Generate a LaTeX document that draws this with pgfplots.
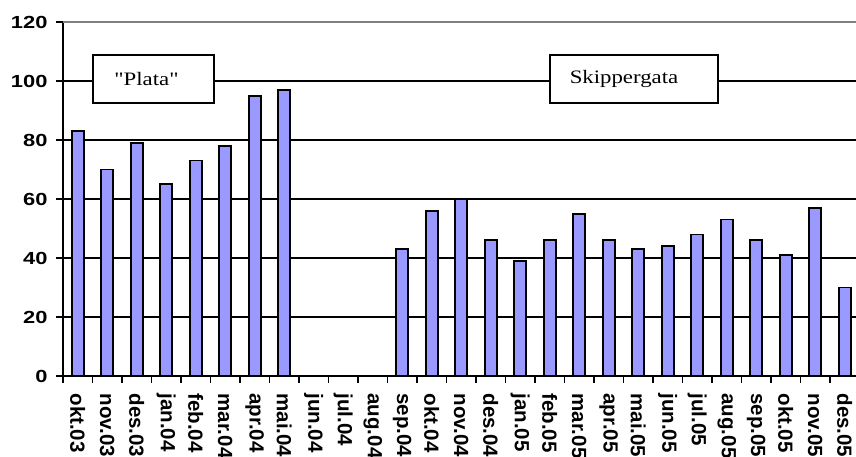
\documentclass[border=0pt]{standalone}
\usepackage{pgfplots}
\pgfplotsset{compat=1.18}
\usepackage{fontspec}
\setmainfont{Liberation Serif}
\newfontfamily\ylab{Liberation Sans}[FakeStretch=1.25]
\newfontfamily\xlab{Liberation Sans}
\newfontfamily\boxfont{Liberation Serif}[FakeStretch=1.2]
\definecolor{barblue}{HTML}{9999FF}
\begin{document}
\begin{tikzpicture}[x=1pt,y=1pt]
\begin{axis}[
  at={(63pt,81pt)}, anchor=south west,
  scale only axis, width=796.5pt, height=354pt,
  xmin=-0.5, xmax=26.5, ymin=0, ymax=120,
  ybar, bar width=12pt,
  axis x line*=bottom, axis y line*=left,
  axis line style={black, line width=2pt, -},
  ytick={0,20,...,100},
  extra y ticks={120},
  extra y tick style={grid=major, major grid style={gray, line width=2pt}},
  ymajorgrids, major grid style={black, line width=1.6pt},
  xtick={-0.5,0.5,...,26.5},
  x tick label as interval,
  xticklabels={okt.03,nov.03,des.03,jan.04,feb.04,mar.04,apr.04,mai.04,jun.04,jul.04,aug.04,sep.04,okt.04,nov.04,des.04,jan.05,feb.05,mar.05,apr.05,mai.05,jun.05,jul.05,aug.05,sep.05,okt.05,nov.05,des.05},
  tick align=outside,
  major tick length=7pt,
  tick style={black, line width=1.6pt},
  /pgf/number format/assume math mode=true,
  yticklabel style={font=\ylab\bfseries\fontsize{17.5}{18}\selectfont, xshift=-5pt},
  xticklabel style={font=\xlab\bfseries\fontsize{20.5}{21}\selectfont, yshift=-7pt, rotate=-90, anchor=west},
]
\addplot[fill=barblue, draw=black, line width=1.6pt] coordinates {
(0,83) (1,70) (2,79) (3,65) (4,73) (5,78) (6,95) (7,97)
(11,43) (12,56) (13,60) (14,46) (15,39) (16,46) (17,55) (18,46)
(19,43) (20,44) (21,48) (22,53) (23,46) (24,41) (25,57) (26,30)};
\end{axis}
\draw[line width=1.5pt, fill=white] (93,354) rectangle (214,402);
\node[font=\boxfont\fontsize{19}{22}\selectfont] at (146.5,378) {"Plata"};
\draw[line width=1.5pt, fill=white] (550,354) rectangle (718,402);
\node[font=\boxfont\fontsize{19}{22}\selectfont] at (624,378) {Skippergata};
\pgfresetboundingbox
\path[use as bounding box] (0,0) rectangle (856,457);
\end{tikzpicture}
\end{document}
